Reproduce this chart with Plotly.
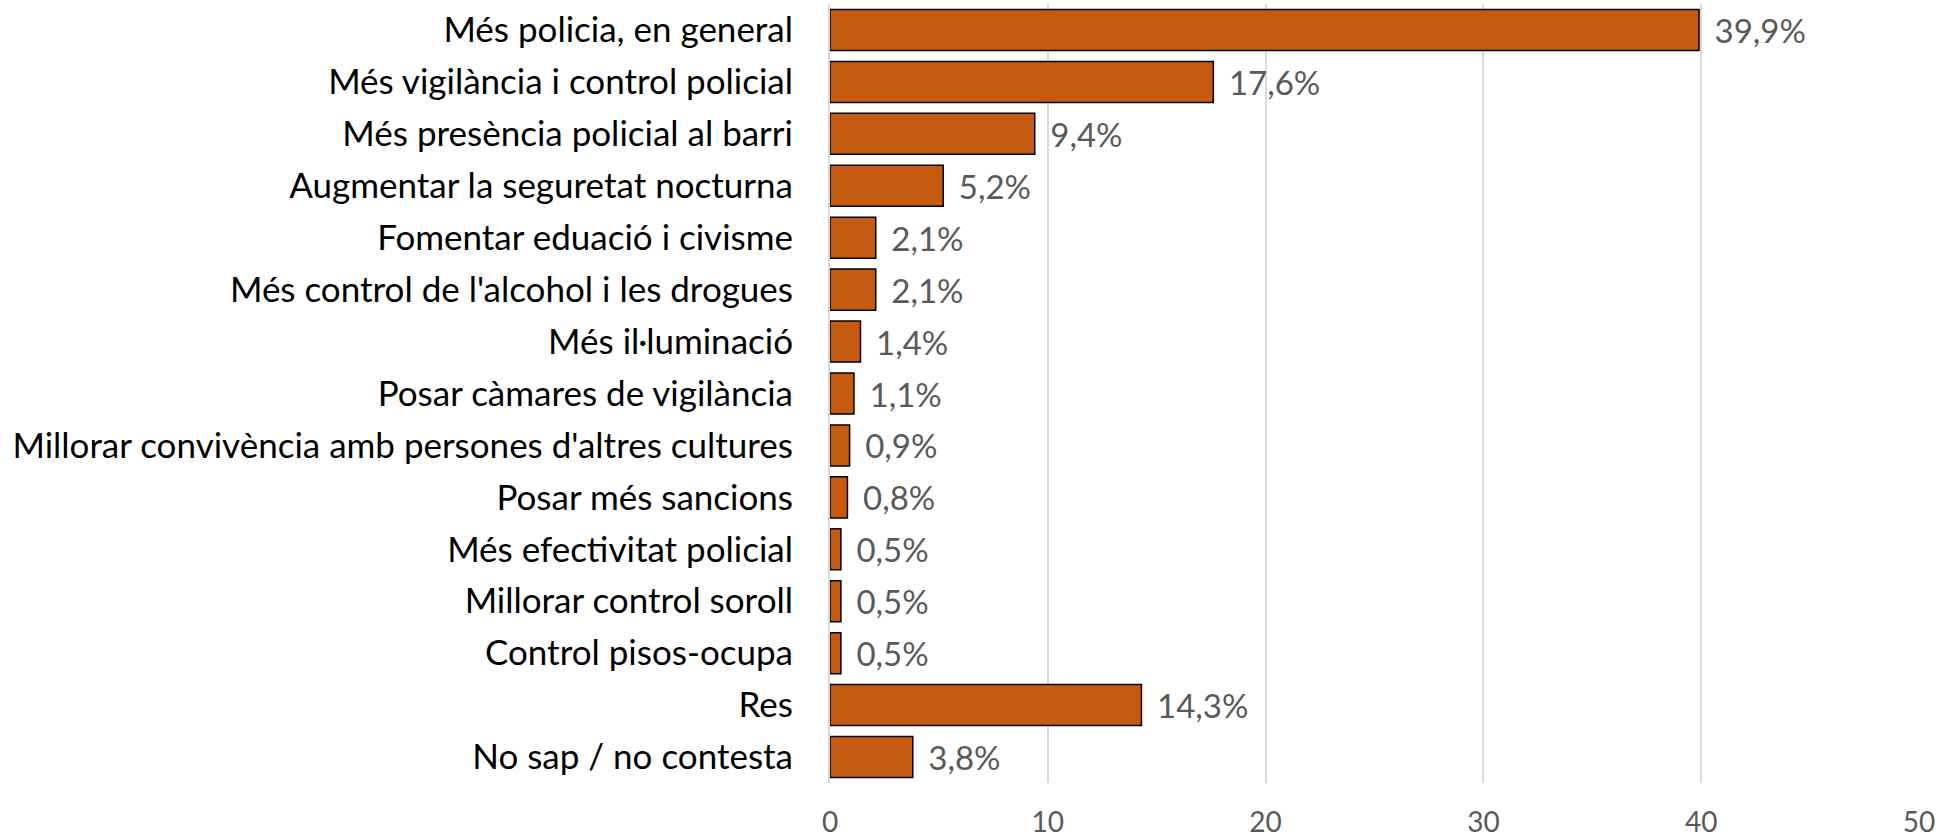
import plotly.graph_objects as go

# Respostes (ordre de dalt a baix)
categories = [
    "Més policia, en general",
    "Més vigilància i control policial",
    "Més presència policial al barri",
    "Augmentar la seguretat nocturna",
    "Fomentar eduació i civisme",
    "Més control de l'alcohol i les drogues",
    "Més il·luminació",
    "Posar càmares de vigilància",
    "Millorar convivència amb persones d'altres cultures",
    "Posar més sancions",
    "Més efectivitat policial",
    "Millorar control soroll",
    "Control pisos-ocupa",
    "Res",
    "No sap / no contesta",
]
values = [39.9, 17.6, 9.4, 5.2, 2.1, 2.1, 1.4, 1.1, 0.9, 0.8, 0.5, 0.5, 0.5, 14.3, 3.8]
x_ticks = [0, 10, 20, 30, 40, 50]

# etiquetes amb coma decimal, separades una mica de la barra
labels = ["\u00a0\u2009" + f"{v:.1f}".replace(".", ",") + "%" for v in values]

FONT = "Lato"

fig = go.Figure(go.Bar(
    x=values,
    y=categories,
    orientation="h",
    marker=dict(color="#C55A11", line=dict(color="#000000", width=1.5)),
    text=labels,
    textposition="outside",
    cliponaxis=False,
    textfont=dict(family=FONT, size=33, color="#595959"),
))

fig.update_layout(
    width=1954,
    height=840,
    margin=dict(l=830, r=35, t=4, b=57),
    paper_bgcolor="white",
    plot_bgcolor="white",
    bargap=0.21,
    showlegend=False,
    font=dict(family=FONT),
)

fig.update_xaxes(
    range=[0, 50],
    tickvals=x_ticks,
    showgrid=True,
    gridcolor="#D9D9D9",
    gridwidth=1.5,
    zeroline=False,
    showline=False,
    ticks="outside",
    ticklen=14,
    tickcolor="rgba(0,0,0,0)",
    tickfont=dict(family=FONT, size=28, color="#595959"),
    automargin=False,
)

fig.update_yaxes(
    autorange="reversed",
    showgrid=False,
    showline=True,
    linecolor="#D9D9D9",
    linewidth=2,
    ticks="outside",
    ticklen=28,
    tickcolor="rgba(0,0,0,0)",
    tickfont=dict(family=FONT, size=35, color="#000000"),
    automargin=False,
)

# pas de marge del body perquè el gràfic ocupi tota la finestra
fig.write_html("out.html", config={"displayModeBar": False},
               post_script="document.body.style.margin='0';")
